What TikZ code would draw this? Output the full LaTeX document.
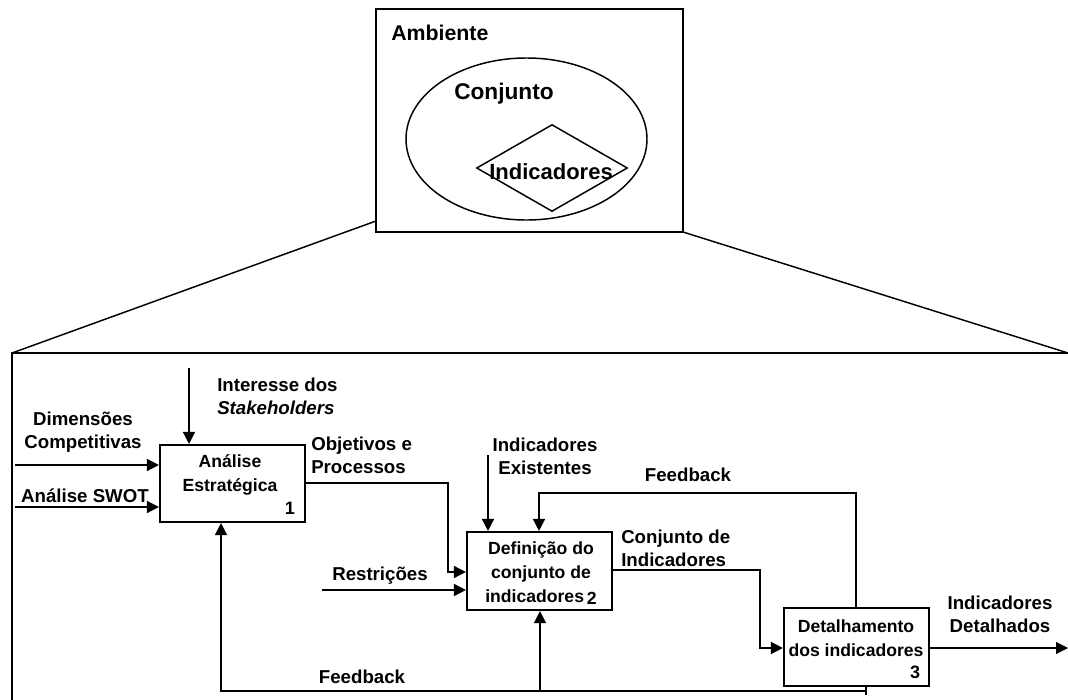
\documentclass[tikz,border=0pt]{standalone}
\usepackage{fontspec}
\setmainfont{Liberation Sans}
\usetikzlibrary{arrows.meta,shapes.geometric}
\begin{document}
\begin{tikzpicture}[x=0.75pt,y=-0.75pt,
  frame/.style={draw,line width=1.6pt},
  procbox/.style={draw,line width=1.6pt,minimum width=108.75pt,minimum height=58.5pt,inner sep=0pt},
  boxtxt/.style={font=\bfseries\fontsize{13.2}{18}\selectfont,align=center,inner sep=0pt},
  lbl/.style={font=\bfseries\fontsize{14}{17.5}\selectfont,inner sep=0pt},
  num/.style={font=\bfseries\fontsize{13.5}{15}\selectfont,inner sep=0pt},
  conn/.style={line width=1.1pt},
  arr/.style={line width=1.1pt,-{Triangle[length=9pt,width=9pt]}}]
\useasboundingbox (0,0) rectangle (1068,700);
% top environment
\node[frame,minimum width=230.25pt,minimum height=167.25pt,inner sep=0pt] (amb) at (529.5,120.5) {};
\node[font=\bfseries\fontsize{16}{18}\selectfont,anchor=west,inner sep=0pt] (ambt) at (391,33) {Ambiente};
\node[draw,line width=1.1pt,ellipse,minimum width=180.75pt,minimum height=121.5pt,inner sep=0pt] (ell) at (526.5,139) {};
\node[font=\bfseries\fontsize{17}{18}\selectfont,inner sep=0pt] (conj) at (504,94) {Conjunto};
\node[draw,line width=1.1pt,diamond,minimum width=113.25pt,minimum height=65.25pt,inner sep=0pt] (dia) at (552,168) {};
\node[font=\bfseries\fontsize{16.5}{18}\selectfont,inner sep=0pt] (indt) at (551,172) {Indicadores};
% zoom lines and big frame
\coordinate (zl1) at (376,221);
\coordinate (zl2) at (12,353);
\coordinate (zr1) at (683,232);
\coordinate (zr2) at (1068,353);
\coordinate (bl) at (12,705);
\draw[line width=1.1pt] (zl1) -- (zl2);
\draw[line width=1.1pt] (zr1) -- (zr2);
\draw[frame] (bl) -- (zl2) -- (zr2 -| 1075,0);
% process boxes
\node[procbox,minimum width=108.75pt,minimum height=57.75pt] (b1) at (232.5,483.5) {};
\node[procbox,minimum width=108.75pt,minimum height=58.5pt] (b2) at (539.5,571) {};
\node[procbox,minimum width=108.75pt,minimum height=58.5pt] (b3) at (856.5,647) {};
\node[boxtxt] (b1t) at (230,474.5) {Análise\\Estratégica};
\node[num] (b1n) at (290,508) {1};
\node[boxtxt] (b2t) at (541,573) {Definição do\\conjunto de\\indicadores\,\raisebox{-1.5pt}{2}};
\node[boxtxt] (b3t) at (856,638) {Detalhamento\\dos indicadores};
\node[num] (b3n) at (915,672) {3};
% labels
\node[lbl,align=left,anchor=west] (intl) at (217,396) {Interesse dos\\\textit{Stakeholders}};
\node[lbl,align=center] (diml) at (83,432) {Dimensões\\Competitivas};
\node[lbl] (swotl) at (85,496) {Análise SWOT};
\node[lbl,align=left,anchor=west] (objl) at (311,455) {Objetivos e\\Processos};
\node[lbl,align=center] (exil) at (545,456) {Indicadores\\Existentes};
\node[lbl] (resl) at (380,576) {Restrições};
\node[lbl] (fb1) at (688,475) {Feedback};
\node[lbl,align=left,anchor=west] (cjl) at (621,548) {Conjunto de\\Indicadores};
\node[lbl,align=center] (detl) at (1000,614) {Indicadores\\Detalhados};
\node[lbl] (fb2) at (362,677) {Feedback};
% free ends
\coordinate (intS) at (189,368);
\coordinate (dimS) at (15,465);
\coordinate (swS) at (15,507);
\coordinate (exS) at (488,455);
\coordinate (resS) at (322,590);
\coordinate (outE) at (1068,648);
\coordinate (objA) at (448,483);
\coordinate (objB) at (448,572);
\coordinate (cjA) at (760,570);
\coordinate (cjB) at (760,648);
\coordinate (fbA) at (856,493);
\coordinate (fbB) at (539,493);
\coordinate (fbC) at (866,691);
\coordinate (fbD) at (866,695);
\coordinate (fbL) at (221,691);
\coordinate (fbM) at (540,691);
% connectors
\draw[arr] (intS) -- (intS |- b1.north);
\draw[arr] (dimS) -- (dimS -| b1.west);
\draw[arr] (swS) -- (swS -| b1.west);
\draw[arr] (b1.east |- objA) -- (objA) -- (objB) -- (objB -| b2.west);
\draw[arr] (exS) -- (exS |- b2.north);
\draw[arr] (resS) -- (resS -| b2.west);
\draw[arr] (b2.east |- cjA) -- (cjA) -- (cjB) -- (cjB -| b3.west);
\draw[arr] (b3.east |- outE) -- (outE);
\draw[arr] (fbA |- b3.north) -- (fbA) -- (fbB) -- (fbB |- b2.north);
\draw[conn] (fbC |- b3.south) -- (fbD);
\draw[arr] (fbC) -- (fbL) -- (fbL |- b1.south);
\draw[arr] (fbM) -- (fbM |- b2.south);
\end{tikzpicture}
\end{document}
